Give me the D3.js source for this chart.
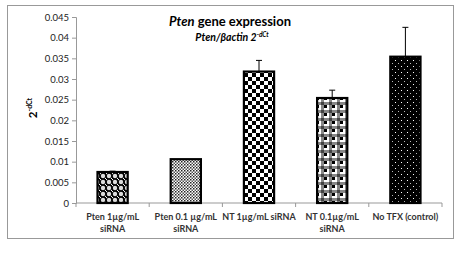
<!DOCTYPE html>
<html>
<head>
<meta charset="utf-8">
<script src="https://cdn.jsdelivr.net/npm/d3@7"></script>
<style>
  body { margin: 0; background: #fff; }
  text { font-family: Lato, "Open Sans", "Liberation Sans", sans-serif; }
</style>
</head>
<body>
<div id="chart"></div>
<script>
// chart values
const categories = [
  ["Pten 1µg/mL", "siRNA"],
  ["Pten 0.1 µg/mL", "siRNA"],
  ["NT 1µg/mL siRNA"],
  ["NT 0.1µg/mL", "siRNA"],
  ["No TFX (control)"],
];
const means = [0.0075, 0.0106, 0.0318, 0.0254, 0.0354];
const errors = [0.0002, 0.0, 0.0027, 0.0019, 0.0071];
const yTicks = [0, 0.005, 0.01, 0.015, 0.02, 0.025, 0.03, 0.035, 0.04, 0.045];
const patterns = ["circles", "dots", "checker", "plaid", "sparse"];

const W = 471, H = 253;
const margin = { top: 17, left: 76, right: 29, bottom: 50 };
const width = W - margin.left - margin.right;
const height = H - margin.top - margin.bottom;

const svg = d3.select("#chart").append("svg")
  .attr("width", W).attr("height", H);

// frame
svg.append("rect").attr("x", 7.5).attr("y", 5.5).attr("width", 446).attr("height", 233)
  .attr("fill", "none").attr("stroke", "#999").attr("stroke-width", 1);

// patterns
const defs = svg.append("defs");
function pat(id, size) {
  return defs.append("pattern").attr("id", id).attr("patternUnits", "userSpaceOnUse")
    .attr("width", size).attr("height", size);
}
// large circles on black
let p = pat("circles", 6);
p.append("rect").attr("width", 6).attr("height", 6).attr("fill", "#000");
p.append("circle").attr("cx", 3).attr("cy", 3).attr("r", 2.2).attr("fill", "#ddd");
p.append("circle").attr("cx", 0).attr("cy", 0).attr("r", 1.2).attr("fill", "#fff");
p.append("circle").attr("cx", 6).attr("cy", 6).attr("r", 1.2).attr("fill", "#fff");
// dense dots
p = pat("dots", 3);
p.append("rect").attr("width", 3).attr("height", 3).attr("fill", "#fff");
p.append("rect").attr("width", 1.5).attr("height", 1.5).attr("fill", "#222");
p.append("rect").attr("x", 1.5).attr("y", 1.5).attr("width", 1.5).attr("height", 1.5).attr("fill", "#555");
// checkerboard
p = pat("checker", 8);
p.append("rect").attr("width", 8).attr("height", 8).attr("fill", "#fff");
p.append("rect").attr("width", 4).attr("height", 4).attr("fill", "#000");
p.append("rect").attr("x", 4).attr("y", 4).attr("width", 4).attr("height", 4).attr("fill", "#000");
// plaid
p = pat("plaid", 8);
p.append("rect").attr("width", 8).attr("height", 8).attr("fill", "#fff");
p.append("rect").attr("width", 8).attr("height", 3).attr("y", 5).attr("fill", "#888");
p.append("rect").attr("width", 3).attr("height", 8).attr("x", 5).attr("fill", "#888");
p.append("rect").attr("width", 3).attr("height", 3).attr("x", 0).attr("y", 0).attr("fill", "#000");
p.append("rect").attr("width", 3).attr("height", 3).attr("x", 5).attr("y", 5).attr("fill", "#444");
// sparse dots on black
p = pat("sparse", 6);
p.append("rect").attr("width", 6).attr("height", 6).attr("fill", "#000");
p.append("rect").attr("x", 1).attr("y", 1).attr("width", 1).attr("height", 1).attr("fill", "#fff");
p.append("rect").attr("x", 4).attr("y", 4).attr("width", 1).attr("height", 1).attr("fill", "#bbb");

const g = svg.append("g").attr("transform", `translate(${margin.left},${margin.top})`);

const x = d3.scaleBand().domain(d3.range(categories.length)).range([0, width]).paddingInner(0.56).paddingOuter(0.28);
const y = d3.scaleLinear().domain([0, 0.045]).range([height, 0]);

// y axis
const yAxis = g.append("g")
  .call(d3.axisLeft(y).tickValues(yTicks).tickSize(4).tickFormat(d => d === 0 ? "0" : String(+d.toFixed(3))));
yAxis.select(".domain").attr("stroke", "#999");
yAxis.selectAll(".tick line").attr("stroke", "#999");
yAxis.selectAll("text").attr("font-size", 9.5).attr("fill", "#222").attr("x", -7);

// x axis
const step = width / categories.length;
const xa = g.append("g").attr("transform", `translate(0,${height})`);
xa.append("line").attr("x1", 0).attr("x2", width).attr("stroke", "#999");
xa.selectAll(".xt").data(d3.range(categories.length + 1)).join("line")
  .attr("x1", d => d * step).attr("x2", d => d * step).attr("y1", 0).attr("y2", 4).attr("stroke", "#999");
xa.selectAll(".xl").data(categories).join("text")
  .attr("text-anchor", "middle").attr("font-size", 9).attr("font-weight", "bold").attr("fill", "#333")
  .attr("transform", (d, i) => `translate(${x(i) + x.bandwidth() / 2},17)`)
  .selectAll("tspan").data(d => d).join("tspan")
  .attr("x", 0).attr("dy", (d, i) => i === 0 ? 0 : 11.5).text(d => d);

// bars
g.selectAll(".bar").data(means).join("rect")
  .attr("x", (d, i) => x(i) + 1).attr("width", x.bandwidth() - 2)
  .attr("y", d => y(d)).attr("height", d => height - y(d))
  .attr("fill", (d, i) => `url(#${patterns[i]})`)
  .attr("stroke", "#000").attr("stroke-width", 2.2);

// error bars
const ebData = means.map((m, i) => ({ i, m, e: errors[i] }));
const cx = d => x(d.i) + x.bandwidth() / 2;
g.selectAll(".ebl").data(ebData.filter(d => d.e > 0)).join("line")
  .attr("x1", cx).attr("x2", cx)
  .attr("y1", d => y(d.m)).attr("y2", d => y(d.m + d.e))
  .attr("stroke", "#000").attr("stroke-width", 1);
g.selectAll(".ebc").data(ebData.filter(d => d.e > 0)).join("line")
  .attr("x1", d => cx(d) - 3).attr("x2", d => cx(d) + 3)
  .attr("y1", d => y(d.m + d.e)).attr("y2", d => y(d.m + d.e))
  .attr("stroke", "#000").attr("stroke-width", 1);

// titles
const t = svg.append("text").attr("x", 230).attr("y", 26).attr("text-anchor", "middle")
  .attr("font-size", 13).attr("font-weight", "bold").attr("fill", "#000");
t.append("tspan").attr("font-style", "italic").text("Pten");
t.append("tspan").text(" gene expression");

const st = svg.append("text").attr("x", 232).attr("y", 41).attr("text-anchor", "middle")
  .attr("font-size", 10.5).attr("font-weight", "bold").attr("font-style", "italic").attr("fill", "#000");
st.append("tspan").text("Pten/βactin 2");
st.append("tspan").attr("font-size", 6.5).attr("dy", -4).text("-dCt");

// y label
const yl = svg.append("text").attr("transform", "translate(37,108) rotate(-90)").attr("text-anchor", "middle")
  .attr("font-size", 11.5).attr("font-weight", "bold").attr("fill", "#000");
yl.append("tspan").text("2");
yl.append("tspan").attr("font-size", 7).attr("dy", -5).text("-dCt");
</script>
</body>
</html>
